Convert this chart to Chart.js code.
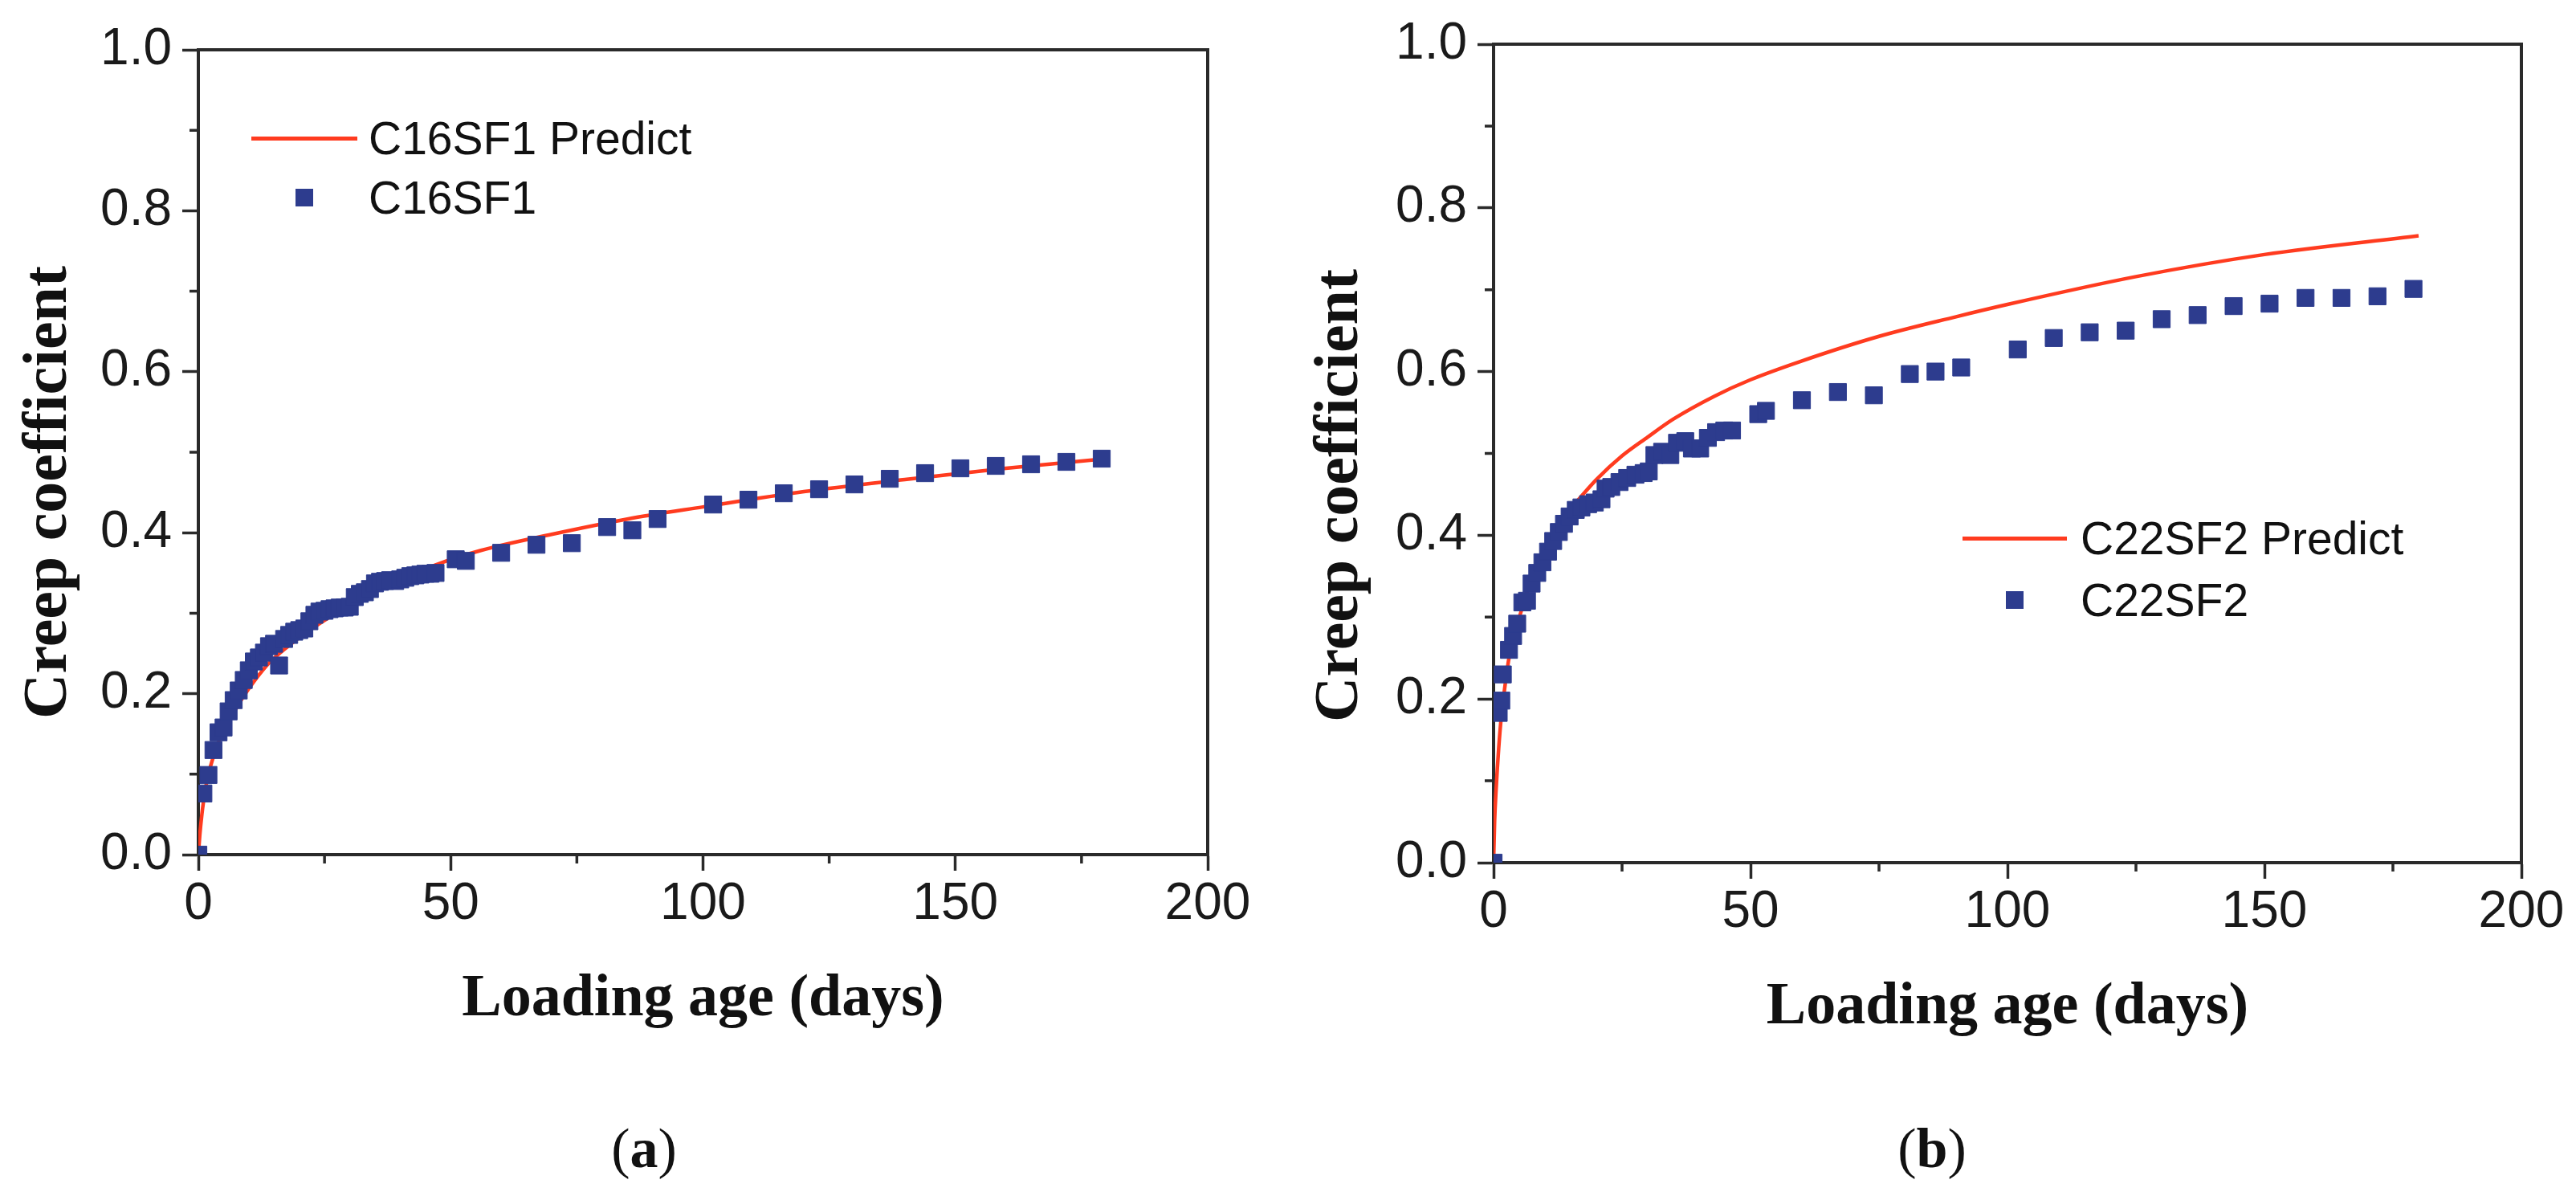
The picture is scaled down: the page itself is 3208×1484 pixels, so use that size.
<!DOCTYPE html>
<html lang="en">
<head>
<meta charset="UTF-8">
<title>Creep coefficient vs loading age</title>
<script src="https://cdn.jsdelivr.net/npm/chart.js"></script>
<style>
  html, body { margin: 0; padding: 0; background: #fff; }
  body { position: relative; width: 3208px; height: 1484px; overflow: hidden;
         font-family: "Liberation Sans", Arial, sans-serif; }
  .panel { position: absolute; top: 0; width: 1604px; height: 1360px; }
  .legend-row { position: absolute; height: 70px; line-height: 70px; font-size: 57px;
                color: #111; white-space: nowrap; }
  .legend-line { position: absolute; height: 5px; }
  .legend-mark { position: absolute; width: 22px; height: 22px; }
  .ytitle { position: absolute; width: 700px; height: 78px; line-height: 78px; text-align: center;
            font-family: "Liberation Serif", "Times New Roman", serif; font-size: 78px; font-weight: bold;
            color: #111; white-space: nowrap; transform: translate(-50%, -50%) rotate(-90deg); }
  .caption { position: absolute; top: 1390px; width: 200px; line-height: 80px; text-align: center;
             font-family: "Liberation Serif", "Times New Roman", serif; font-size: 70px; color: #111; }
</style>
</head>
<body>
  <div class="panel" style="left:0"><canvas id="chartA"></canvas></div>
  <div class="panel" style="left:1604px"><canvas id="chartB"></canvas></div>
  <div class="ytitle" style="left:56px;top:613px">Creep coefficient</div>
  <div class="ytitle" style="left:1664px;top:617px">Creep coefficient</div>
  <div id="legends"></div>
  <div class="caption" style="left:702px">(<b>a</b>)</div>
  <div class="caption" style="left:2306px">(<b>b</b>)</div>

<script>
// ---- data (a) C16SF1 ----
const daysA = [0, 1, 2, 3, 4, 5, 6, 7, 8, 9, 10, 11, 12, 13, 14, 15, 16, 17, 18, 19,
  20, 21, 22, 23, 24, 25, 26, 27, 28, 29, 30, 31, 32, 33, 34, 35, 36, 37, 38, 39,
  40, 41, 42, 43, 44, 45, 46, 47, 51, 53, 60, 67, 74, 81, 86, 91, 102, 109, 116,
  123, 130, 137, 144, 151, 158, 165, 172, 179];
const creepA = [0, 0.076, 0.099, 0.130, 0.152, 0.158, 0.178, 0.192, 0.204, 0.217,
  0.229, 0.240, 0.245, 0.251, 0.259, 0.262, 0.235, 0.268, 0.273, 0.277,
  0.279, 0.281, 0.290, 0.298, 0.302, 0.303, 0.305, 0.306, 0.307, 0.307,
  0.308, 0.320, 0.324, 0.326, 0.330, 0.337, 0.339, 0.340, 0.341, 0.340,
  0.342, 0.344, 0.346, 0.347, 0.348, 0.349, 0.349, 0.350, 0.367, 0.365,
  0.375, 0.385, 0.387, 0.407, 0.403, 0.417, 0.435, 0.441, 0.449, 0.454,
  0.460, 0.467, 0.474, 0.480, 0.483, 0.485, 0.488, 0.492];
const predDaysA = [0, 0.3, 0.7, 1, 1.5, 2, 3, 4, 5, 7, 9, 11, 14, 18, 24, 30, 38, 47,
  56, 70, 85, 100, 120, 140, 160, 180];
const predictA = [0, 0.025, 0.05, 0.065, 0.085, 0.1, 0.122, 0.14, 0.153, 0.176, 0.197,
  0.215, 0.238, 0.26, 0.287, 0.31, 0.336, 0.36, 0.378, 0.398, 0.417, 0.432, 0.451,
  0.466, 0.48, 0.492];

// ---- data (b) C22SF2 ----
const daysB = [0, 1, 1.5, 1.8, 3, 3.8, 4.6, 5.6, 6.5, 7.4, 8.5, 9.5, 10.6, 11.6, 12.7,
  13.7, 14.8, 16, 17.1, 18.4, 19.7, 21, 21.8, 22.9, 24.5, 26, 27.6, 29.2, 30.2, 31.3,
  32.8, 34.4, 35.7, 37.3, 38.6, 40.2, 41.7, 43.3, 44.9, 46.4, 51.5, 53, 60, 67, 74,
  81, 86, 91, 102, 109, 116, 123, 130, 137, 144, 151, 158, 165, 172, 179];
const creepB = [0, 0.183, 0.198, 0.230, 0.260, 0.277, 0.292, 0.318, 0.320, 0.341,
  0.354, 0.367, 0.380, 0.393, 0.404, 0.414, 0.423, 0.431, 0.434, 0.438,
  0.440, 0.444, 0.457, 0.459, 0.465, 0.470, 0.474, 0.476, 0.478, 0.498,
  0.502, 0.498, 0.513, 0.515, 0.506, 0.506, 0.519, 0.526, 0.528, 0.528,
  0.548, 0.552, 0.565, 0.575, 0.571, 0.597, 0.600, 0.605, 0.627, 0.641,
  0.648, 0.650, 0.664, 0.669, 0.680, 0.683, 0.690, 0.690, 0.692, 0.701];
const predDaysB = [0, 0.2, 0.5, 1, 1.5, 2, 3, 4, 6, 8, 10, 12.5, 15.5, 20, 25, 30, 35,
  43, 50, 60, 75, 90, 100, 125, 150, 180];
const predictB = [0, 0.05, 0.09, 0.14, 0.178, 0.205, 0.25, 0.277, 0.32, 0.355, 0.385,
  0.413, 0.436, 0.468, 0.497, 0.52, 0.542, 0.57, 0.59, 0.613, 0.643, 0.667, 0.682,
  0.716, 0.743, 0.766];

// ---- axes ----
const minorX = [25, 75, 125, 175];
const minorY = [0.1, 0.3, 0.5, 0.7, 0.9];

const LINE_COLOR = '#ff3b1f';
const POINT_COLOR = '#2d3c8e';
const AXIS_COLOR = '#2a2a2a';

// top/right frame and the short minor ticks
const framePlugin = {
  id: 'frame',
  afterDraw(chart) {
    const { ctx, chartArea: a, scales: { x, y } } = chart;
    ctx.save();
    ctx.strokeStyle = AXIS_COLOR;
    ctx.lineWidth = 4;
    ctx.beginPath();
    ctx.moveTo(a.left - 2, a.top);
    ctx.lineTo(a.right, a.top);
    ctx.lineTo(a.right, a.bottom + 2);
    ctx.stroke();
    ctx.lineWidth = 3.5;
    ctx.beginPath();
    minorX.forEach(v => {
      const px = x.getPixelForValue(v);
      ctx.moveTo(px, a.bottom);
      ctx.lineTo(px, a.bottom + 11);
    });
    minorY.forEach(v => {
      const py = y.getPixelForValue(v);
      ctx.moveTo(a.left, py);
      ctx.lineTo(a.left - 11, py);
    });
    ctx.stroke();
    ctx.restore();
  }
};

function buildChart(id, p) {
  return new Chart(document.getElementById(id), {
    type: 'scatter',
    data: {
      datasets: [
        {
          label: p.pointLabel,
          data: p.days.map((d, i) => ({ x: d, y: p.creep[i] })),
          pointStyle: 'rect',
          pointRadius: 15,
          pointHoverRadius: 15,
          backgroundColor: POINT_COLOR,
          borderColor: POINT_COLOR,
          borderWidth: 1,
          clip: 0,
          order: 0
        },
        {
          label: p.lineLabel,
          data: p.predDays.map((d, i) => ({ x: d, y: p.predict[i] })),
          showLine: true,
          pointRadius: 0,
          borderColor: LINE_COLOR,
          borderWidth: 4.5,
          cubicInterpolationMode: 'monotone',
          order: 1
        }
      ]
    },
    options: {
      responsive: true,
      maintainAspectRatio: false,
      animation: false,
      layout: { padding: p.padding },
      plugins: { legend: { display: false }, tooltip: { enabled: false } },
      scales: {
        x: {
          type: 'linear', min: 0, max: 200,
          afterFit: s => { s.height = 225; },
          border: { color: AXIS_COLOR, width: 4 },
          grid: { drawOnChartArea: false, tickLength: 20, tickWidth: 3.5, tickColor: AXIS_COLOR },
          ticks: { stepSize: 50, padding: 4, color: '#1a1a1a',
                   font: { family: '"Liberation Sans", Arial, sans-serif', size: 64 } },
          title: { display: true, text: 'Loading age (days)', color: '#111', padding: { top: 0, bottom: 0 },
                   font: { family: '"Liberation Serif", "Times New Roman", serif', size: 74, weight: 'bold' } }
        },
        y: {
          type: 'linear', min: 0, max: 1,
          afterFit: s => { s.width = p.yWidth; },
          border: { color: AXIS_COLOR, width: 4 },
          grid: { drawOnChartArea: false, tickLength: 20, tickWidth: 3.5, tickColor: AXIS_COLOR },
          ticks: { stepSize: 0.2, padding: 13, color: '#1a1a1a', callback: v => v.toFixed(1),
                   font: { family: '"Liberation Sans", Arial, sans-serif', size: 64 } },
          title: { display: false }
        }
      }
    },
    plugins: [framePlugin]
  });
}

const chartA = buildChart('chartA', {
  days: daysA, creep: creepA, predDays: predDaysA, predict: predictA,
  pointLabel: 'C16SF1', lineLabel: 'C16SF1 Predict',
  padding: { left: 0, top: 62, right: 100, bottom: 71 }, yWidth: 247
});
const chartB = buildChart('chartB', {
  days: daysB, creep: creepB, predDays: predDaysB, predict: predictB,
  pointLabel: 'C22SF2', lineLabel: 'C22SF2 Predict',
  padding: { left: 0, top: 55, right: 68, bottom: 61 }, yWidth: 256
});

// legends drawn as html, labels taken from the datasets
function addLegend(chart, lineX, textX, rowY) {
  const host = document.getElementById('legends');
  const [pts, line] = chart.data.datasets;
  const rows = [{ ds: line, y: rowY[0], kind: 'line' }, { ds: pts, y: rowY[1], kind: 'mark' }];
  rows.forEach(r => {
    const sample = document.createElement('div');
    if (r.kind === 'line') {
      sample.className = 'legend-line';
      sample.style.cssText = `left:${lineX[0]}px;width:${lineX[1] - lineX[0]}px;top:${r.y - 2.5}px;background:${r.ds.borderColor}`;
    } else {
      sample.className = 'legend-mark';
      const cx = (lineX[0] + lineX[1]) / 2;
      sample.style.cssText = `left:${cx - 11}px;top:${r.y - 11}px;background:${r.ds.backgroundColor}`;
    }
    host.appendChild(sample);
    const txt = document.createElement('div');
    txt.className = 'legend-row';
    txt.style.left = textX + 'px';
    txt.style.top = (r.y - 35) + 'px';
    txt.textContent = r.ds.label;
    host.appendChild(txt);
  });
}

addLegend(chartA, [313, 445], 459, [172, 246]);
addLegend(chartB, [2444, 2574], 2591, [670, 747]);
</script>
</body>
</html>
